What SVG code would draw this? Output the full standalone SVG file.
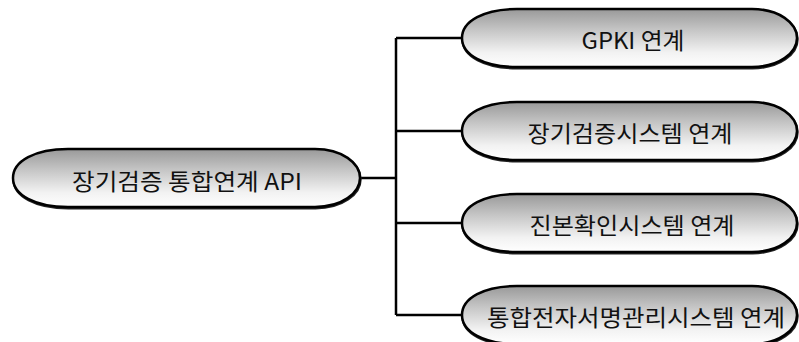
<svg xmlns="http://www.w3.org/2000/svg" width="799" height="342" viewBox="0 0 799 342">
<defs>
<linearGradient id="g" x1="0" y1="0" x2="0" y2="1">
<stop offset="0" stop-color="#999999"/>
<stop offset="0.35" stop-color="#c4c4c4"/>
<stop offset="0.75" stop-color="#f2f2f2"/>
<stop offset="1" stop-color="#ffffff"/>
</linearGradient>
<style>
.shape{fill:url(#g);stroke:#000;stroke-width:2.5}
.shadow{fill:none;stroke:#222;stroke-width:2.5}
.lbl{font-family:"Noto Sans CJK KR","Noto Sans",sans-serif;font-size:23px;fill:#111;text-anchor:middle}
.conn{fill:none;stroke:#000;stroke-width:2.5}
</style>
</defs>
<rect width="799" height="342" fill="#fff"/>
<g id="connectors">
<path class="conn" d="M360,178 H396"/>
<path class="conn" d="M396,38 V315"/>
<path class="conn" d="M396,38 H462"/>
<path class="conn" d="M396,131 H462"/>
<path class="conn" d="M396,223 H462"/>
<path class="conn" d="M396,315 H462"/>
</g>
<g id="node-main">
<path class="shadow" transform="translate(0.5,1.2)" d="M13,178 C13,161 35,149 68,149 L315,149 C342,149 360,163 360,178 C360,193 342,207 315,207 L68,207 C35,207 13,195 13,178 Z"/>
<path class="shape" d="M13,178 C13,161 35,149 68,149 L315,149 C342,149 360,163 360,178 C360,193 342,207 315,207 L68,207 C35,207 13,195 13,178 Z"/>
<text class="lbl" x="187" y="190" textLength="230" lengthAdjust="spacingAndGlyphs">장기검증 통합연계 API</text>
</g>
<g id="node-gpki">
<path class="shadow" transform="translate(0.5,1.2)" d="M462,38 C462,21 484,9 517,9 L752,9 C779,9 797,23 797,38 C797,53 779,67 752,67 L517,67 C484,67 462,55 462,38 Z"/>
<path class="shape" d="M462,38 C462,21 484,9 517,9 L752,9 C779,9 797,23 797,38 C797,53 779,67 752,67 L517,67 C484,67 462,55 462,38 Z"/>
<text class="lbl" x="633" y="49" textLength="103" lengthAdjust="spacingAndGlyphs">GPKI 연계</text>
</g>
<g id="node-ltv">
<path class="shadow" transform="translate(0.5,1.2)" d="M462,131 C462,114 484,102 517,102 L752,102 C779,102 797,116 797,131 C797,146 779,160 752,160 L517,160 C484,160 462,148 462,131 Z"/>
<path class="shape" d="M462,131 C462,114 484,102 517,102 L752,102 C779,102 797,116 797,131 C797,146 779,160 752,160 L517,160 C484,160 462,148 462,131 Z"/>
<text class="lbl" x="630" y="142" textLength="205" lengthAdjust="spacingAndGlyphs">장기검증시스템 연계</text>
</g>
<g id="node-auth">
<path class="shadow" transform="translate(0.5,1.2)" d="M462,223 C462,206 484,194 517,194 L752,194 C779,194 797,208 797,223 C797,238 779,252 752,252 L517,252 C484,252 462,240 462,223 Z"/>
<path class="shape" d="M462,223 C462,206 484,194 517,194 L752,194 C779,194 797,208 797,223 C797,238 779,252 752,252 L517,252 C484,252 462,240 462,223 Z"/>
<text class="lbl" x="632" y="234" textLength="205" lengthAdjust="spacingAndGlyphs">진본확인시스템 연계</text>
</g>
<g id="node-sign">
<path class="shadow" transform="translate(0.5,1.2)" d="M462,315 C462,298 484,286 517,286 L752,286 C779,286 797,300 797,315 C797,330 779,344 752,344 L517,344 C484,344 462,332 462,315 Z"/>
<path class="shape" d="M462,315 C462,298 484,286 517,286 L752,286 C779,286 797,300 797,315 C797,330 779,344 752,344 L517,344 C484,344 462,332 462,315 Z"/>
<text class="lbl" x="636" y="326" textLength="298" lengthAdjust="spacingAndGlyphs">통합전자서명관리시스템 연계</text>
</g>
</svg>
